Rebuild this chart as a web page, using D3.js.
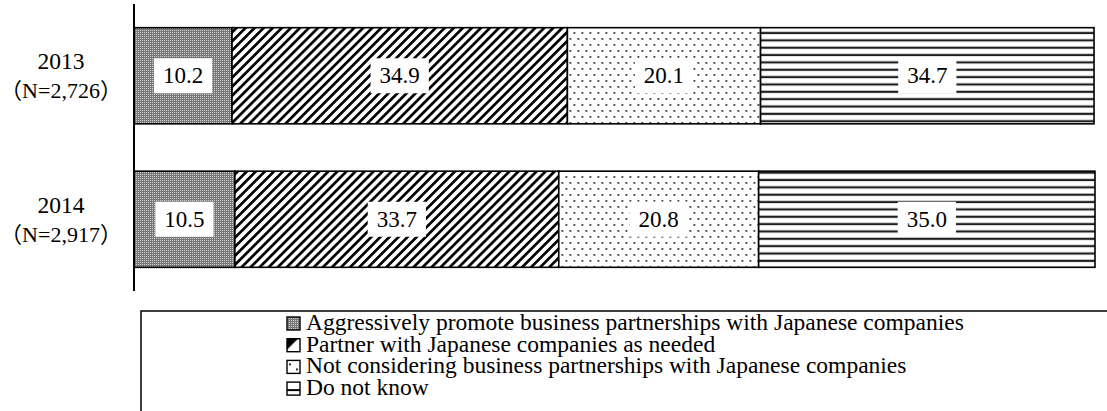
<!DOCTYPE html>
<html>
<head>
<meta charset="utf-8">
<script src="https://cdn.jsdelivr.net/npm/d3@7"></script>
<style>
  html, body { margin: 0; padding: 0; background: #fff; }
  svg { display: block; }
</style>
</head>
<body>
<svg id="chart" width="1107" height="411"></svg>
<script>
// Survey years and respondent counts
const years = ["2013", "2014"];
const sampleLabels = ["（N=2,726）", "（N=2,917）"];

// Response categories
const responses = [
  "Aggressively promote business partnerships with Japanese companies",
  "Partner with Japanese companies as needed",
  "Not considering business partnerships with Japanese companies",
  "Do not know"
];

// Share of respondents (%) per year, in response order
const values2013 = [10.2, 34.9, 20.1, 34.7];
const values2014 = [10.5, 33.7, 20.8, 35.0];
const seriesValues = [values2013, values2014];

const FONT = '"Liberation Serif", "Noto Sans CJK JP"';

const svg = d3.select("#chart");
const W = 1107, H = 411;

// ---- fill patterns -------------------------------------------------------
const defs = svg.append("defs");

// fine grey checker
const pCheck = defs.append("pattern").attr("id", "pat0")
  .attr("patternUnits", "userSpaceOnUse").attr("width", 2).attr("height", 2);
pCheck.append("rect").attr("width", 2).attr("height", 2).attr("fill", "#787878");
pCheck.append("rect").attr("width", 1).attr("height", 1).attr("fill", "#d0d0d0");

// bold forward diagonal hatch
const pDiag = defs.append("pattern").attr("id", "pat1")
  .attr("patternUnits", "userSpaceOnUse").attr("width", 6.4).attr("height", 6.4)
  .attr("patternTransform", "rotate(45)");
pDiag.append("rect").attr("width", 6.4).attr("height", 6.4).attr("fill", "#fff");
pDiag.append("rect").attr("width", 2.7).attr("height", 6.4).attr("fill", "#000");

// sparse staggered dots
const pDots = defs.append("pattern").attr("id", "pat2")
  .attr("patternUnits", "userSpaceOnUse").attr("width", 8).attr("height", 12);
pDots.append("rect").attr("width", 8).attr("height", 12).attr("fill", "#fff");
pDots.append("rect").attr("x", 1.5).attr("y", 2).attr("width", 1.8).attr("height", 1.8).attr("fill", "#3c3c3c");
pDots.append("rect").attr("x", 5.5).attr("y", 8).attr("width", 1.8).attr("height", 1.8).attr("fill", "#3c3c3c");

// horizontal rules
const pHoriz = defs.append("pattern").attr("id", "pat3")
  .attr("patternUnits", "userSpaceOnUse").attr("width", 8).attr("height", 7.35);
pHoriz.append("rect").attr("width", 8).attr("height", 7.35).attr("fill", "#fff");
pHoriz.append("rect").attr("y", 2.5).attr("width", 8).attr("height", 2.2).attr("fill", "#1e1e1e");

const fills = ["url(#pat0)", "url(#pat1)", "url(#pat2)", "url(#pat3)"];

// coarser versions of the hatches for the small legend keys
const kDiag = defs.append("pattern").attr("id", "key1")
  .attr("patternUnits", "objectBoundingBox").attr("width", 1).attr("height", 1);
kDiag.append("rect").attr("width", 13).attr("height", 13).attr("fill", "#fff");
kDiag.append("path").attr("d", "M0,0 L11,0 L0,11 Z").attr("fill", "#000");
const kDots = defs.append("pattern").attr("id", "key2")
  .attr("patternUnits", "objectBoundingBox").attr("width", 1).attr("height", 1);
kDots.append("rect").attr("width", 13).attr("height", 13).attr("fill", "#fff");
kDots.append("rect").attr("x", 2).attr("y", 3).attr("width", 2).attr("height", 2).attr("fill", "#333");
kDots.append("rect").attr("x", 9).attr("y", 8).attr("width", 2).attr("height", 2).attr("fill", "#333");
const kHoriz = defs.append("pattern").attr("id", "key3")
  .attr("patternUnits", "objectBoundingBox").attr("width", 1).attr("height", 1);
kHoriz.append("rect").attr("width", 13).attr("height", 13).attr("fill", "#fff");
kHoriz.append("rect").attr("y", 7).attr("width", 13).attr("height", 2).attr("fill", "#000");
const keyFills = ["url(#pat0)", "url(#key1)", "url(#key2)", "url(#key3)"];

// ---- scales ---------------------------------------------------------------
const x = d3.scaleLinear().domain([0, 100]).range([134, 1095]);
const y = d3.scaleBand().domain(years).range([4, 291])
  .paddingInner(0.33).paddingOuter(0.165);

// stacked segments
const rows = years.map((yr, i) => {
  let acc = 0;
  return seriesValues[i].map((v, k) => {
    const seg = { year: yr, k, v, x0: acc, x1: acc + v };
    acc += v;
    return seg;
  });
});

const g = svg.append("g");

rows.forEach(row => {
  const rg = g.append("g");
  rg.selectAll("rect.seg").data(row).join("rect")
    .attr("class", "seg")
    .attr("x", d => x(d.x0))
    .attr("y", d => y(d.year))
    .attr("width", d => x(d.x1) - x(d.x0))
    .attr("height", y.bandwidth())
    .attr("fill", d => fills[d.k])
    .attr("stroke", "#000")
    .attr("stroke-width", 1.6);

  // value labels on white plates
  const lab = rg.selectAll("g.lab").data(row).join("g")
    .attr("class", "lab")
    .attr("transform", d => `translate(${(x(d.x0) + x(d.x1)) / 2},${y(d.year) + y.bandwidth() / 2})`);
  lab.append("text")
    .attr("text-anchor", "middle")
    .attr("y", 7.5)
    .style("font-family", FONT)
    .style("font-size", "23px")
    .text(d => d.v.toFixed(1))
    .each(function () {
      const bb = this.getBBox();
      d3.select(this.parentNode).insert("rect", "text")
        .attr("x", bb.x - 9).attr("y", -17.5)
        .attr("width", bb.width + 18).attr("height", 35)
        .attr("fill", "#fff");
    });
});

// category axis line
g.append("line")
  .attr("x1", 134).attr("x2", 134)
  .attr("y1", 4).attr("y2", 291)
  .attr("stroke", "#000").attr("stroke-width", 2);

// category labels (year + sample size)
const cat = g.selectAll("g.cat").data(years).join("g")
  .attr("class", "cat")
  .attr("transform", d => `translate(61,${y(d) + y.bandwidth() / 2})`);
cat.append("text").attr("text-anchor", "middle").attr("y", -6.5)
  .style("font-family", FONT).style("font-size", "23.5px").text(d => d);
cat.append("text").attr("text-anchor", "middle").attr("y", 22.5)
  .style("font-family", FONT).style("font-size", "22px").text((d, i) => sampleLabels[i]);

// ---- legend ---------------------------------------------------------------
const lg = svg.append("g");
lg.append("path")
  .attr("d", `M141,${H + 2} L141,311 L${W + 2},311`)
  .attr("fill", "none").attr("stroke", "#000").attr("stroke-width", 1.5);

const items = lg.selectAll("g.item").data(responses).join("g")
  .attr("class", "item")
  .attr("transform", (d, i) => `translate(287,${330 + i * 21.7})`);
items.append("rect")
  .attr("x", 0).attr("y", -13).attr("width", 13).attr("height", 13)
  .attr("fill", (d, i) => keyFills[i])
  .attr("stroke", "#000").attr("stroke-width", 1.4);
items.append("text")
  .attr("x", 19).attr("y", 0)
  .style("font-family", FONT)
  .style("font-size", "23.5px")
  .text(d => d);
</script>
</body>
</html>
